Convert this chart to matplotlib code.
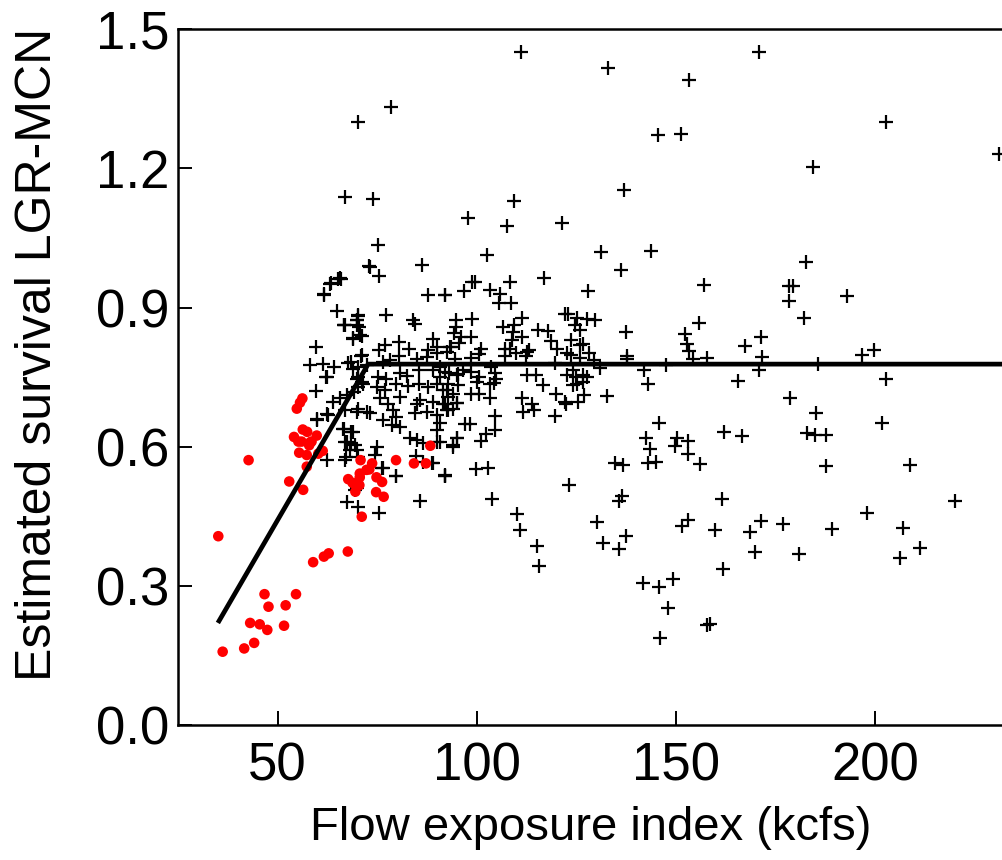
import matplotlib.pyplot as plt

plt.rcParams['font.family'] = ['Liberation Sans', 'DejaVu Sans']

# black "+" points (flow exposure index, estimated survival)
flow_black = [
    70.1, 78.5, 66.8, 73.9, 97.7, 75.2, 111.1, 132.9, 153.2, 145.5, 151.2, 137.0, 109.3,
    107.6, 121.3, 102.6, 131.2, 143.7, 170.8, 202.7, 230.9, 184.4,
    182.5, 178.2, 179.4, 178.2, 192.8, 182.1, 171.2, 167.2, 171.6, 170.7, 185.7, 196.5,
    199.7, 202.7, 165.5, 178.5, 185.2, 201.6, 161.9, 166.5, 182.7, 184.8, 187.7, 187.5,
    208.7, 161.5, 219.9, 197.8, 171.4, 176.8, 159.7, 168.5, 189.1, 206.8, 169.7, 180.8,
    211.2, 206.1, 161.8, 158.4,
    92.0, 99.7, 102.8, 103.8, 110.1, 110.8, 115.0, 115.6, 123.0, 134.6, 136.6, 143.0,
    144.9, 156.0, 136.3, 135.6, 130.1, 131.7, 135.7, 137.5, 151.5, 152.9, 141.7, 145.8,
    149.1, 147.9, 157.8, 146.0,
    136.1, 116.8, 157.0, 92.0, 96.7, 98.8, 99.4, 103.4, 105.9, 108.2, 105.6, 108.6, 127.8,
    155.7, 137.4, 152.2, 152.8, 153.2, 154.3, 157.8, 137.7, 137.7, 147.5, 141.9, 143.0,
    132.6, 145.6, 142.5, 143.5, 150.2, 153.0, 149.7, 153.0, 119.6,
    94.7, 94.7, 98.8, 94.2, 95.9, 98.6, 95.6, 93.4, 92.4, 101.1, 100.6, 98.4, 94.5,
    106.6, 109.3, 109.1, 108.9, 111.2, 111.3, 115.4, 117.9, 118.5, 107.0, 108.3, 109.8,
    112.6, 113.1, 107.0, 112.3, 120.1, 119.6, 122.0, 122.9, 125.0, 127.5, 129.6, 124.6,
    125.8, 123.7, 125.8, 126.6, 122.7, 123.7, 125.8, 128.1, 129.4, 130.8,
    90.7, 93.0, 95.3, 98.6, 100.5, 103.5, 104.5, 104.9, 90.7, 92.8, 95.3, 99.9, 103.3,
    104.4, 91.5, 94.0, 92.8, 98.6, 100.5, 103.3, 92.0, 94.9, 92.4, 94.0,
    112.6, 114.7, 116.6, 111.2, 113.7, 111.5, 114.3, 119.9, 122.0, 122.4, 125.4, 126.8,
    122.7, 124.1, 124.8, 126.6, 127.5, 124.1, 125.0, 126.5,
    97.0, 98.2, 104.5, 102.4, 101.1, 104.5, 94.9, 93.9, 90.7, 90.7, 92.0,
    73.2, 75.4, 86.1, 61.6, 63.5, 65.2, 66.0, 87.8, 91.9, 64.8, 70.2, 69.9, 70.4, 77.3,
    66.6, 68.8, 71.2, 84.0, 84.4, 59.6, 58.1, 61.3, 64.1, 62.1, 59.5, 68.5, 70.9, 75.5,
    76.9, 80.5, 80.5, 82.9, 89.0, 89.9, 87.8, 84.9, 87.4, 89.9, 93.2, 76.5, 78.2,
    75.2, 77.3, 80.7, 82.4, 85.5, 89.0, 91.9, 94.9, 96.5, 70.2, 71.5,
    74.8, 76.9, 79.8, 82.8, 85.5, 87.8, 89.9, 92.4,
    75.7, 77.7, 80.7, 84.9, 85.7, 89.0, 91.5, 94.9, 64.0, 65.6, 67.3,
    66.9, 69.8, 73.2, 79.0, 79.8, 84.4, 87.4, 89.9, 92.8, 59.8, 62.4,
    66.5, 69.0, 67.3, 68.5, 76.5, 78.6, 80.7, 83.2, 84.9, 86.5, 89.9, 94.0, 94.9, 89.9,
    68.1, 69.8, 74.8, 74.4, 62.3, 66.9, 84.7, 86.4, 89.0, 76.5, 79.8, 91.9,
    69.4, 69.8, 67.3, 70.2, 75.5, 76.2, 79.7, 85.7, 88.6,
    66.7, 70.0, 70.6, 68.9, 62.3, 69.1, 67.7, 68.8, 70.2, 71.1, 72.3, 69.8, 71.1, 70.2,
    70.2, 72.3, 66.7, 68.5, 66.9, 69.4, 67.1, 70.2, 59.9, 62.7,
    65.6, 63.1, 61.7, 70.2, 69.8, 66.9, 72.9,
]
surv_black = [
    1.299, 1.332, 1.139, 1.135, 1.092, 1.034, 1.450, 1.417, 1.391, 1.272, 1.275, 1.154, 1.129,
    1.076, 1.083, 1.014, 1.019, 1.022, 1.450, 1.301, 1.231, 1.203,
    0.999, 0.946, 0.946, 0.915, 0.925, 0.878, 0.836, 0.818, 0.794, 0.766, 0.779, 0.798,
    0.808, 0.745, 0.742, 0.706, 0.673, 0.650, 0.631, 0.624, 0.629, 0.626, 0.626, 0.559,
    0.560, 0.487, 0.483, 0.458, 0.440, 0.434, 0.421, 0.416, 0.423, 0.425, 0.373, 0.368,
    0.381, 0.361, 0.337, 0.217,
    0.537, 0.551, 0.555, 0.488, 0.454, 0.421, 0.385, 0.343, 0.518, 0.564, 0.560, 0.564,
    0.567, 0.562, 0.494, 0.483, 0.438, 0.392, 0.379, 0.407, 0.428, 0.442, 0.307, 0.298,
    0.315, 0.252, 0.216, 0.188,
    0.980, 0.963, 0.948, 0.927, 0.936, 0.954, 0.956, 0.938, 0.929, 0.954, 0.910, 0.910, 0.935,
    0.867, 0.848, 0.843, 0.822, 0.806, 0.790, 0.792, 0.795, 0.790, 0.777, 0.766, 0.735,
    0.709, 0.652, 0.618, 0.596, 0.618, 0.612, 0.601, 0.584, 0.666,
    0.874, 0.858, 0.876, 0.846, 0.836, 0.837, 0.824, 0.815, 0.805, 0.810, 0.800, 0.791, 0.790,
    0.857, 0.863, 0.848, 0.831, 0.837, 0.878, 0.851, 0.850, 0.828, 0.811, 0.811, 0.801,
    0.805, 0.808, 0.795, 0.795, 0.810, 0.781, 0.886, 0.885, 0.878, 0.876, 0.874, 0.862,
    0.851, 0.830, 0.819, 0.822, 0.801, 0.797, 0.792, 0.802, 0.787, 0.769,
    0.772, 0.758, 0.756, 0.761, 0.751, 0.771, 0.758, 0.747, 0.751, 0.736, 0.733, 0.740, 0.736,
    0.738, 0.722, 0.714, 0.708, 0.714, 0.714, 0.704, 0.693, 0.695, 0.679, 0.682,
    0.754, 0.754, 0.733, 0.704, 0.693, 0.675, 0.679, 0.714, 0.697, 0.693, 0.697, 0.711,
    0.754, 0.765, 0.751, 0.754, 0.751, 0.733, 0.736, 0.740,
    0.649, 0.649, 0.637, 0.628, 0.612, 0.667, 0.618, 0.600, 0.650, 0.611, 0.539,
    0.988, 0.968, 0.991, 0.929, 0.952, 0.962, 0.962, 0.926, 0.927, 0.892, 0.884, 0.874, 0.858, 0.884,
    0.862, 0.835, 0.838, 0.873, 0.864, 0.814, 0.776, 0.778, 0.772, 0.751, 0.720, 0.783, 0.795, 0.808,
    0.819, 0.826, 0.795, 0.811, 0.833, 0.815, 0.808, 0.790, 0.794, 0.801, 0.815, 0.783, 0.787,
    0.751, 0.747, 0.758, 0.752, 0.765, 0.765, 0.761, 0.754, 0.765, 0.751, 0.736,
    0.729, 0.722, 0.735, 0.731, 0.736, 0.729, 0.735, 0.723,
    0.704, 0.693, 0.708, 0.693, 0.700, 0.697, 0.693, 0.695, 0.697, 0.704, 0.711,
    0.679, 0.675, 0.672, 0.679, 0.664, 0.673, 0.675, 0.668, 0.679, 0.657, 0.670,
    0.639, 0.632, 0.611, 0.607, 0.657, 0.647, 0.643, 0.618, 0.614, 0.607, 0.611, 0.603, 0.618, 0.636,
    0.593, 0.593, 0.600, 0.582, 0.571, 0.572, 0.580, 0.567, 0.565, 0.555, 0.537, 0.537,
    0.506, 0.512, 0.480, 0.470, 0.458, 0.555, 0.537, 0.483, 0.565,
    0.862, 0.862, 0.840, 0.833, 0.751, 0.718, 0.781, 0.768, 0.772, 0.797, 0.776, 0.747, 0.740, 0.729,
    0.682, 0.675, 0.639, 0.632, 0.611, 0.603, 0.578, 0.578, 0.659, 0.668,
    0.964, 0.950, 0.928, 0.881, 0.873, 0.863, 0.989,
]

# red points (low-flow years)
flow_red = [
    35.1, 36.2, 41.6, 44.1, 43.1, 45.5, 47.4, 46.7, 47.7, 51.6, 52.0, 54.6, 58.9, 61.6,
    62.8, 67.6, 52.9, 56.4, 42.7, 57.3, 67.7, 68.8, 70.6, 70.5, 69.5, 71.1, 74.8, 76.2,
    74.7, 76.6, 70.8, 73.0, 73.7, 79.7, 84.2, 87.2, 88.3,
    56.2, 55.6, 54.8, 56.3, 54.1, 57.4, 59.8, 56.0, 58.5, 57.9, 55.4, 57.3, 61.3,
    55.2, 58.1, 60.2, 72.3, 70.6,
]
surv_red = [
    0.407, 0.158, 0.165, 0.177, 0.220, 0.217, 0.205, 0.282, 0.255, 0.214, 0.258, 0.282, 0.351, 0.363,
    0.370, 0.374, 0.525, 0.507, 0.571, 0.557, 0.530, 0.522, 0.534, 0.517, 0.503, 0.449, 0.534, 0.524,
    0.502, 0.492, 0.571, 0.551, 0.564, 0.571, 0.564, 0.564, 0.602,
    0.704, 0.695, 0.682, 0.637, 0.621, 0.632, 0.624, 0.611, 0.611, 0.603, 0.587, 0.582, 0.591,
    0.611, 0.609, 0.585, 0.550, 0.542,
]

# broken-stick fit
fit_x = [35.0, 72.7, 232.0]
fit_y = [0.220, 0.778, 0.778]

fig = plt.figure(figsize=(10.03, 8.6), dpi=100)
ax = fig.add_axes([0.1775, 0.157, 0.8225, 0.809])

ax.plot(flow_black, surv_black, linestyle='none', marker='+', color='black',
        markersize=9.5, markeredgewidth=1.6)
ax.scatter(flow_red, surv_red, s=58, color='#ff0000', edgecolors='none', zorder=3)
ax.plot(fit_x, fit_y, color='black', linewidth=3.4, zorder=4, solid_capstyle='butt')

ax.set_xlim(25, 232)
ax.set_ylim(0, 1.5)
ax.set_xticks([50, 100, 150, 200])
ax.set_yticks([0.0, 0.3, 0.6, 0.9, 1.2, 1.5])
ax.set_yticklabels(['0.0', '0.3', '0.6', '0.9', '1.2', '1.5'])

for side in ['left', 'bottom', 'top']:
    ax.spines[side].set_linewidth(1.8)
ax.spines['right'].set_visible(False)

ax.tick_params(direction='in', length=10, width=1.4, labelsize=38)
ax.tick_params(axis='x', pad=12)
ax.tick_params(axis='y', pad=6)
ax.set_xlabel('Flow exposure index (kcfs)', fontsize=34, labelpad=10)
ax.set_ylabel('Estimated survival LGR-MCN', fontsize=36)
ax.yaxis.set_label_coords(-0.142, 0.532)

fig.savefig('out.png', dpi=100)
